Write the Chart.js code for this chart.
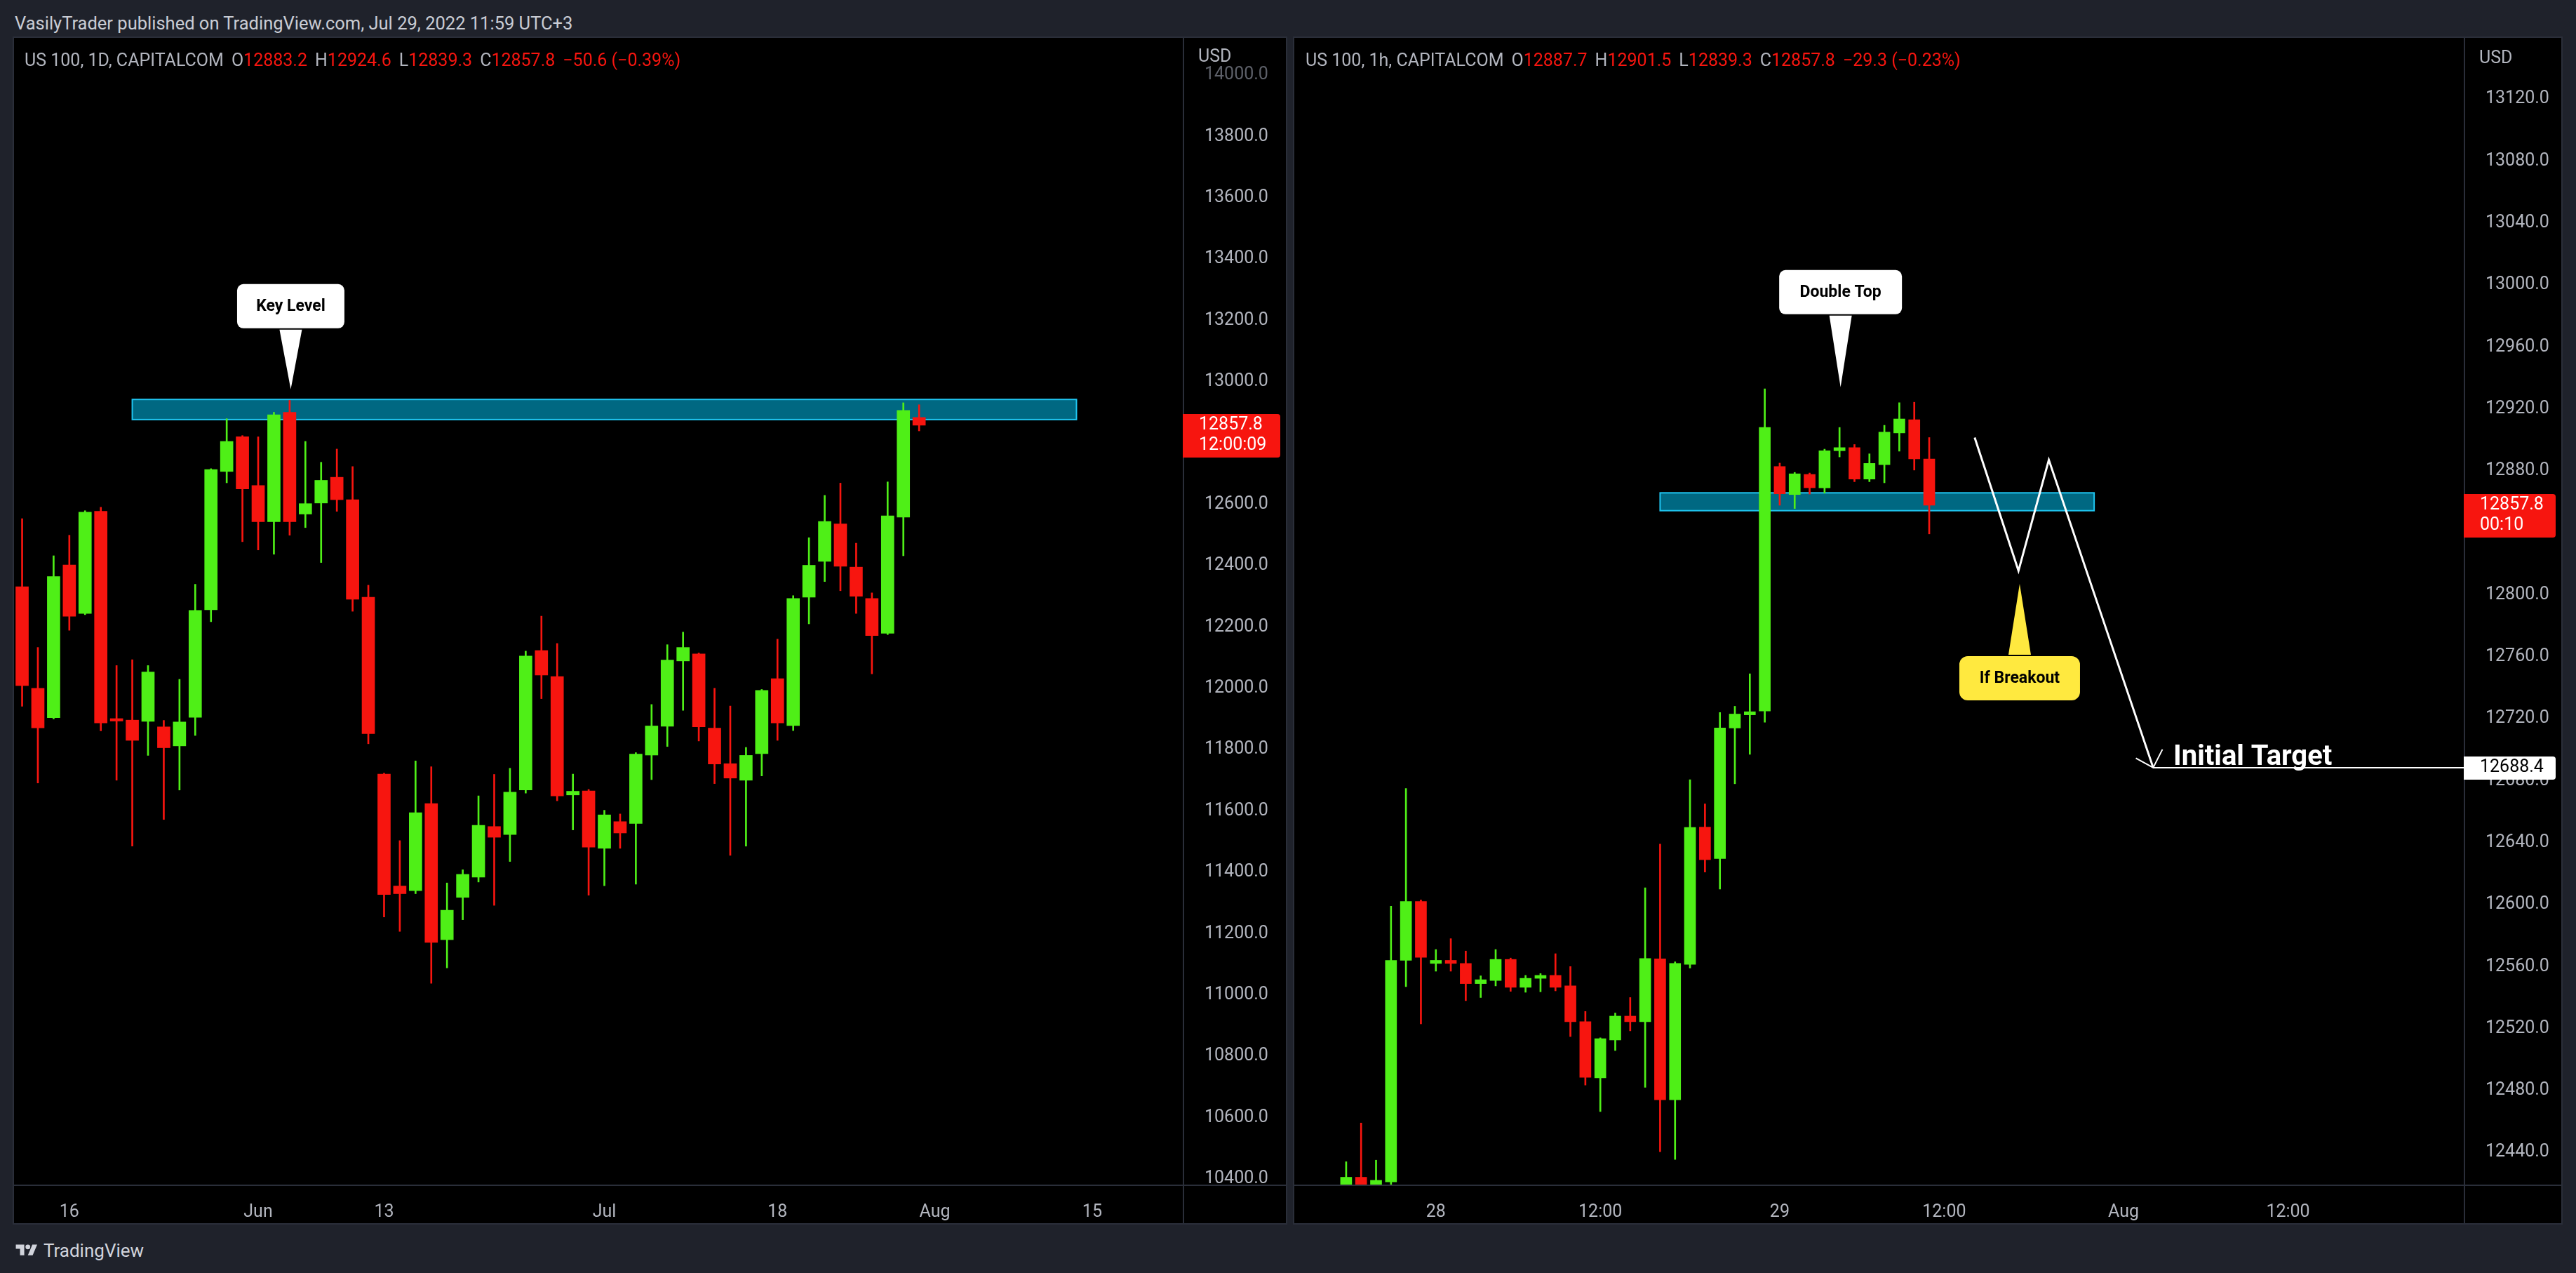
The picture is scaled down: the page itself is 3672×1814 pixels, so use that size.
<!DOCTYPE html>
<html>
<head>
<meta charset="utf-8">
<title>US 100 - Double Top</title>
<script src="https://cdn.jsdelivr.net/npm/chart.js@4.4.0/dist/chart.umd.min.js"></script>
<style>
  html, body { margin: 0; padding: 0; width: 3672px; height: 1814px; overflow: hidden; background: #1f222b; font-family: Roboto, "Liberation Sans", sans-serif; }
  .panel { position: absolute; background: #000; outline: 2px solid #2a2e39; }
  canvas { position: absolute; background: #000; }
  .txt { position: absolute; white-space: pre; color: #b2b5be; font-size: 25px; line-height: 28px; }
  .txt .r { color: #f7150f; }
  .txt .g { margin-left: 11px; }
</style>
</head>
<body>
<div class="panel" style="left:20px;top:54px;width:1813px;height:1689px"></div>
<div class="panel" style="left:1845px;top:54px;width:1806px;height:1689px"></div>
<canvas id="dayChart" width="1813" height="1689" style="left:20px;top:54px"></canvas>
<canvas id="hourChart" width="1806" height="1689" style="left:1845px;top:54px"></canvas>

<div class="txt" style="left:21px;top:19px;color:#c9ccd4;font-size:25.5px">VasilyTrader published on TradingView.com, Jul 29, 2022 11:59 UTC+3</div>
<div class="txt" style="left:35px;top:72px">US 100, 1D, CAPITALCOM<span class="g">O</span><span class="r">12883.2</span><span class="g">H</span><span class="r">12924.6</span><span class="g">L</span><span class="r">12839.3</span><span class="g">C</span><span class="r">12857.8</span><span class="g r">−50.6 (−0.39%)</span></div>
<div class="txt" style="left:1861px;top:72px">US 100, 1h, CAPITALCOM<span class="g">O</span><span class="r">12887.7</span><span class="g">H</span><span class="r">12901.5</span><span class="g">L</span><span class="r">12839.3</span><span class="g">C</span><span class="r">12857.8</span><span class="g r">−29.3 (−0.23%)</span></div>
<div class="txt" style="left:1708px;top:66px">USD</div>
<div class="txt" style="left:3534px;top:68px">USD</div>
<div class="txt" style="left:20px;top:1767px;color:#d1d4dc;font-size:26px;line-height:30px"><svg width="36" height="24" viewBox="0 0 36 28" style="vertical-align:-3px"><path d="M14 22H7V11H0V4h14v18z" fill="#d1d4dc"/><circle cx="20" cy="8" r="4" fill="#d1d4dc"/><path d="M28 22h-8l7.5-18h8L28 22z" fill="#d1d4dc"/></svg> TradingView</div>

<script>
// ---- daily candles, US 100 (left panel) ----
const dayDates = [
  '2022-05-11','2022-05-12','2022-05-13','2022-05-16','2022-05-17','2022-05-18','2022-05-19','2022-05-20',
  '2022-05-23','2022-05-24','2022-05-25','2022-05-26','2022-05-27','2022-05-30','2022-05-31',
  '2022-06-01','2022-06-02','2022-06-03','2022-06-06','2022-06-07','2022-06-08','2022-06-09','2022-06-10',
  '2022-06-13','2022-06-14','2022-06-15','2022-06-16','2022-06-17','2022-06-20','2022-06-21','2022-06-22',
  '2022-06-23','2022-06-24','2022-06-27','2022-06-28','2022-06-29','2022-06-30',
  '2022-07-01','2022-07-04','2022-07-05','2022-07-06','2022-07-07','2022-07-08','2022-07-11','2022-07-12',
  '2022-07-13','2022-07-14','2022-07-15','2022-07-18','2022-07-19','2022-07-20','2022-07-21','2022-07-22',
  '2022-07-25','2022-07-26','2022-07-27','2022-07-28','2022-07-29'
];
const dayOpen = [12331, 12000, 11904, 12402, 12244, 12577, 11901, 11896, 11892, 11874, 11812, 11905, 12256, 12707, 12820,
  12661, 12543, 12900, 12568, 12604, 12688, 12615, 12297, 11720, 11355, 11340, 11624, 11180, 11318, 11384,
  11549, 11523, 11668, 12123, 12038, 11652, 11665, 11478, 11565, 11559, 11782, 11876, 12089, 12112, 11870,
  11754, 11700, 11787, 12031, 11878, 12297, 12414, 12536, 12395, 12293, 12179, 12558, 12883.2];
const dayHigh = [12553, 12133, 12432, 12499, 12579, 12590, 12074, 12093, 12074, 11895, 12029, 12339, 12716, 12879, 12824,
  12820, 12900, 12939, 12805, 12737, 12780, 12723, 12336, 11723, 11503, 11763, 11744, 11365, 11408, 11649,
  11719, 11739, 12121, 12235, 12146, 11720, 11670, 11602, 11590, 11790, 11947, 12142, 12183, 12115, 12000,
  11942, 11807, 11996, 12160, 12302, 12491, 12629, 12669, 12473, 12311, 12673, 12931, 12924.6];
const dayLow = [11941, 11691, 11900, 12189, 12240, 11861, 11700, 11485, 11781, 11572, 11668, 11846, 12217, 12670, 12478,
  12451, 12437, 12499, 12524, 12410, 12577, 12251, 11819, 11254, 11207, 11330, 11038, 11088, 11245, 11368,
  11292, 11435, 11658, 11966, 11633, 11538, 11325, 11356, 11478, 11361, 11702, 11810, 11928, 11828, 11689,
  11455, 11485, 11714, 11830, 11862, 12210, 12348, 12318, 12244, 12047, 12175, 12432, 12839.3];
const dayClose = [12009, 11871, 12364, 12235, 12574, 11887, 11893, 11830, 12053, 11806, 11890, 12254, 12713, 12805, 12650,
  12543, 12892, 12543, 12602, 12678, 12615, 12290, 11852, 11327, 11330, 11594, 11171, 11276, 11393, 11553,
  11514, 11661, 12105, 12043, 11649, 11664, 11482, 11587, 11528, 11785, 11877, 12092, 12133, 11874, 11753,
  11707, 11781, 11993, 11887, 12293, 12401, 12544, 12398, 12300, 12172, 12562, 12906, 12857.8];
const dayTickPos = [3, 15, 23, 37, 48, 58, 68];
const dayTickText = ['16', 'Jun', '13', 'Jul', '18', 'Aug', '15'];
const dayPriceTicks = [10400, 10600, 10800, 11000, 11200, 11400, 11600, 11800, 12000, 12200, 12400,
  12600, 12800, 13000, 13200, 13400, 13600, 13800, 14000];

// ---- hourly candles, Jul 27 18:00 -> Jul 29 11:00 (right panel) ----
const hourOpen = [12410, 12424, 12412, 12421, 12564, 12602, 12562, 12564, 12562, 12549, 12551, 12564.6, 12546.6, 12552.4,
  12554.3, 12547.5, 12524.4, 12488.2, 12512.6, 12528, 12524.4, 12565, 12474, 12561.4, 12650, 12629.7, 12714,
  12722.5, 12725, 12882.8, 12864.7, 12877.7, 12869, 12893, 12895, 12874.7, 12884, 12904.5, 12913, 12887.7];
const hourHigh = [12434, 12459, 12435, 12599, 12675, 12603, 12571, 12578, 12570, 12554, 12571, 12565.5, 12554.3, 12555.5,
  12568.3, 12560, 12531, 12514, 12530, 12540, 12610.8, 12639, 12563, 12680.6, 12665, 12724, 12728,
  12749, 12933, 12885, 12879, 12878.6, 12894, 12908, 12897, 12891, 12909.4, 12924, 12924.3, 12901.5];
const hourLow = [12400, 12400, 12405, 12419, 12547, 12523, 12557, 12557, 12538, 12540, 12547.5, 12544, 12543.4, 12543.7,
  12544.3, 12514.8, 12483.5, 12466.4, 12505.8, 12518.5, 12482, 12440.5, 12435.5, 12559, 12621, 12610, 12678,
  12697, 12717.7, 12857.8, 12855.7, 12865, 12865.6, 12889, 12873, 12873, 12872.3, 12892.7, 12880.5, 12839.3];
const hourClose = [12424, 12410, 12422, 12564, 12602, 12566, 12564, 12562, 12549, 12551.5, 12564.6, 12546.6, 12552.4, 12554.3,
  12546.6, 12524.4, 12488.5, 12513.5, 12528, 12524.4, 12565.2, 12474, 12562, 12649.8, 12629, 12714, 12723,
  12724.5, 12908, 12865.2, 12878.1, 12869.1, 12893, 12895, 12874.7, 12884.8, 12905, 12913.5, 12887.7, 12857.8];
const hourTickPos = [6, 17, 29, 40, 52, 63];
const hourTickText = ['28', '12:00', '29', '12:00', 'Aug', '12:00'];
const hourPriceTicks = [12440, 12480, 12520, 12560, 12600, 12640, 12680, 12720, 12760, 12800, 12840,
  12880, 12920, 12960, 13000, 13040, 13080, 13120];

// projected path drawn on the hourly chart (bar index, price)
const pathX = [42.04, 44.97, 47.0, 53.98];
const pathY = [12901.5, 12815.5, 12887.1, 12688.4];
const arrowX = [52.82, 53.98, 54.6];
const arrowY = [12694.5, 12688.4, 12700.2];
const targetPrice = 12688.4;

const UP = '#4fef17';
const DOWN = '#f7150f';
const AXIS_TEXT = '#b2b5be';
const SEP = '#2a2e39';

function candleSets(o, h, l, c, bodyW) {
  const col = c.map((v, i) => v >= o[i] ? UP : DOWN);
  return [
    { data: l.map((v, i) => ({ x: i, y: [v, h[i]] })), backgroundColor: col, barThickness: 2,
      grouped: false, borderWidth: 0, order: 3 },
    { data: o.map((v, i) => ({ x: i, y: [v, c[i]] })), backgroundColor: col, barThickness: bodyW,
      grouped: false, borderWidth: 0, minBarLength: 2, order: 2 }
  ];
}

function lineSet(xs, ys, width) {
  return { type: 'line', data: xs.map((v, i) => ({ x: v, y: ys[i] })), borderColor: '#ffffff',
    borderWidth: width, pointRadius: 0, tension: 0, borderJoinStyle: 'miter', order: 0 };
}

function callout(ctx, px, py, c) {
  const dir = c.below ? 1 : -1;
  const edge = py + dir * c.gap;
  const top = c.below ? edge : edge - c.h;
  ctx.fillStyle = c.fill;
  ctx.beginPath();
  ctx.roundRect(px - c.w / 2, top, c.w, c.h, c.r);
  ctx.fill();
  ctx.beginPath();
  ctx.moveTo(px - 16, edge - dir * 2);
  ctx.lineTo(px + 16, edge - dir * 2);
  ctx.lineTo(px, py);
  ctx.closePath();
  ctx.fill();
  ctx.fillStyle = '#000';
  ctx.font = 'bold 23px Roboto';
  ctx.textAlign = 'center';
  ctx.textBaseline = 'middle';
  ctx.fillText(c.text, px, top + c.h / 2 + 1);
}

function overlay(cfg) {
  return {
    id: 'overlay',
    beforeDatasetsDraw(chart) {
      const { ctx, chartArea: a, scales: { x, y } } = chart;
      ctx.save();
      ctx.beginPath();
      ctx.rect(a.left, a.top, a.right - a.left, a.bottom - a.top);
      ctx.clip();
      cfg.zones.forEach(z => {
        const x0 = x.getPixelForValue(z.from), x1 = x.getPixelForValue(z.to);
        const y0 = y.getPixelForValue(z.high), y1 = y.getPixelForValue(z.low);
        ctx.fillStyle = '#006882';
        ctx.fillRect(x0, y0, x1 - x0, y1 - y0);
        ctx.strokeStyle = '#1fc4ef';
        ctx.lineWidth = 2;
        ctx.strokeRect(x0, y0, x1 - x0, y1 - y0);
      });
      ctx.restore();
    },
    afterDatasetsDraw(chart) {
      const { ctx, scales: { x, y } } = chart;
      ctx.save();
      cfg.callouts.forEach(c => callout(ctx, x.getPixelForValue(c.x), y.getPixelForValue(c.y), c));
      cfg.notes.forEach(n => {
        ctx.fillStyle = '#fff';
        ctx.font = n.font;
        ctx.textAlign = 'left';
        ctx.textBaseline = 'alphabetic';
        ctx.fillText(n.text, x.getPixelForValue(n.x), y.getPixelForValue(n.y) - 4);
      });
      ctx.restore();
    },
    afterDraw(chart) {
      const { ctx, chartArea: a, scales: { y } } = chart;
      ctx.save();
      ctx.strokeStyle = SEP;
      ctx.lineWidth = 2;
      ctx.beginPath();
      ctx.moveTo(a.right, 0); ctx.lineTo(a.right, chart.height);
      ctx.moveTo(0, a.bottom); ctx.lineTo(chart.width, a.bottom);
      ctx.stroke();
      cfg.tags.forEach(t => {
        const py = y.getPixelForValue(t.value);
        const h = t.lines.length > 1 ? 62 : 33;
        ctx.fillStyle = t.bg;
        ctx.beginPath();
        ctx.roundRect(a.right - 1, py - 16, t.w, h, [0, 4, 4, 0]);
        ctx.fill();
        ctx.fillStyle = t.fg;
        ctx.font = '25px Roboto';
        ctx.textAlign = 'left';
        ctx.textBaseline = 'middle';
        t.lines.forEach((s, k) => ctx.fillText(s, a.right + 22, py + k * 29));
      });
      ctx.restore();
    }
  };
}

function makeChart(id, cfg) {
  return new Chart(document.getElementById(id), {
    type: 'bar',
    data: { datasets: cfg.datasets },
    options: {
      responsive: false,
      devicePixelRatio: 1,
      animation: false,
      events: [],
      layout: { padding: { left: 1, right: 0, top: 0, bottom: 0 }, autoPadding: false },
      plugins: { legend: { display: false }, tooltip: { enabled: false } },
      scales: {
        x: {
          type: 'linear', min: cfg.xMin, max: cfg.xMax, offset: false,
          grid: { display: false }, border: { display: false },
          afterBuildTicks: s => { s.ticks = cfg.tickPos.map(v => ({ value: v })); },
          afterFit: s => { s.height = 54; s.paddingLeft = 0; s.paddingRight = 0; },
          ticks: { callback: (v, i) => cfg.tickText[i], color: AXIS_TEXT, font: { size: 25 },
            padding: 16, maxRotation: 0, autoSkip: false }
        },
        y: {
          type: 'linear', position: 'right', min: cfg.yMin, max: cfg.yMax,
          grid: { display: false }, border: { display: false },
          afterBuildTicks: s => { s.ticks = cfg.priceTicks.map(v => ({ value: v })); },
          afterFit: s => { s.width = cfg.axisW; s.paddingTop = 0; s.paddingBottom = 0; },
          ticks: { callback: v => v.toFixed(1), font: { size: 25 }, padding: 22,
            color: c => c.tick && c.tick.value >= cfg.dimFrom ? '#5d6069' : AXIS_TEXT }
        }
      }
    },
    plugins: [overlay(cfg)]
  });
}

Chart.defaults.font.family = 'Roboto';

makeChart('dayChart', {
  datasets: candleSets(dayOpen, dayHigh, dayLow, dayClose, 18),
  xMin: -0.47, xMax: 73.8, yMin: 10379, yMax: 14121, axisW: 146, dimFrom: 14000,
  tickPos: dayTickPos, tickText: dayTickText, priceTicks: dayPriceTicks,
  zones: [{ from: 7.0, to: 67.0, low: 12876.2, high: 12941.9 }],
  callouts: [{ text: 'Key Level', x: 17.07, y: 12974.8, w: 153, h: 63, gap: 87, r: 9, fill: '#ffffff' }],
  notes: [],
  tags: [{ value: dayClose[dayClose.length - 1], lines: ['12857.8', '12:00:09'], bg: DOWN, fg: '#fff', w: 139 }]
});

makeChart('hourChart', {
  datasets: [
    ...candleSets(hourOpen, hourHigh, hourLow, hourClose, 16),
    lineSet(pathX, pathY, 3),
    lineSet(arrowX, arrowY, 2),
    lineSet([pathX[pathX.length - 1], 80], [targetPrice, targetPrice], 2)
  ],
  xMin: -3.42, xMax: 74.8, yMin: 12418.8, yMax: 13159.5, axisW: 138, dimFrom: Infinity,
  tickPos: hourTickPos, tickText: hourTickText, priceTicks: hourPriceTicks,
  zones: [{ from: 21.0, to: 50.03, low: 12854.3, high: 12865.8 }],
  callouts: [
    { text: 'Double Top', x: 33.07, y: 12934, w: 175, h: 63, gap: 104, r: 9, fill: '#ffffff' },
    { text: 'If Breakout', x: 45.05, y: 12807, w: 172, h: 63, gap: 103, r: 12, fill: '#ffe93f', below: true }
  ],
  notes: [{ text: 'Initial Target', x: 55.33, y: targetPrice, font: 'bold 40px Roboto' }],
  tags: [
    { value: hourClose[hourClose.length - 1], lines: ['12857.8', '00:10'], bg: DOWN, fg: '#fff', w: 131 },
    { value: targetPrice, lines: ['12688.4'], bg: '#ffffff', fg: '#000', w: 131 }
  ]
});
</script>
</body>
</html>
